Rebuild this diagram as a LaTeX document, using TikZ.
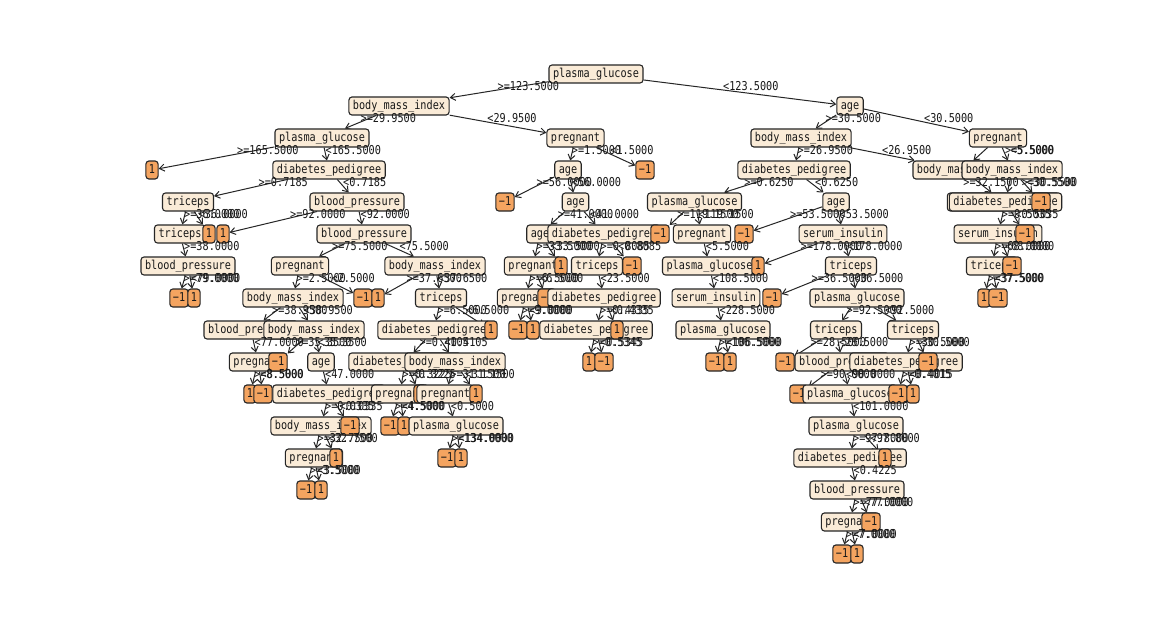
\documentclass[tikz,border=0pt]{standalone}
\usepackage{graphicx}
\usepackage{fontspec}
\newfontfamily\dtfont{DejaVu Sans Mono}
\usetikzlibrary{arrows.meta,calc}
\definecolor{innfill}{HTML}{FAEBD7}
\definecolor{leaffill}{HTML}{F4A460}
\pgfdeclarelayer{bottom}
\pgfdeclarelayer{background}
\pgfdeclarelayer{foreground}
\pgfsetlayers{bottom,background,main,foreground}
\newcommand\T[1]{\scalebox{1}[1.2]{#1}}
\newcommand\tedge[4][0]{%
  \begin{pgfonlayer}{background}\draw[arr] (#2) -- (#3);\end{pgfonlayer}%
  \begin{pgfonlayer}{foreground}\node[lbl] at ($(#2)!0.5!(#3)+(#1,-4)$) {\T{#4}};\end{pgfonlayer}}
\begin{document}
\begin{tikzpicture}[x=1pt,y=-1pt,
  inn/.style={draw=black!85, fill=innfill, rounded corners=3pt, line width=1.1pt,
    minimum height=18pt, inner xsep=4pt, inner ysep=0pt, text height=9pt, text depth=2.4pt,
    text=black!90, font=\dtfont\fontsize{10.2}{12}\selectfont},
  leaf/.style={inn, fill=leaffill, inner xsep=3pt},
  arr/.style={-{Straight Barb[length=5pt,width=7pt,line width=1pt]}, draw=black!85, line width=1pt},
  lbl/.style={anchor=west, inner sep=0pt, text=black!90, font=\dtfont\fontsize{10.2}{12}\selectfont}]
\begin{pgfonlayer}{bottom}
\fill[white] (0,0) rectangle (1164,623);
\end{pgfonlayer}
\useasboundingbox (0,0) rectangle (1164,623);
% L0
\node[inn] (n0) at (596,74) {\T{plasma\_glucose}};
% L1
\node[inn] (a1) at (399,106) {\T{body\_mass\_index}};
\node[inn] (b1) at (850,106) {\T{age}};
% L2
\node[inn] (a2) at (322,138) {\T{plasma\_glucose}};
\node[inn] (b2) at (575.5,138) {\T{pregnant}};
\node[inn] (c2) at (801,138) {\T{body\_mass\_index}};
\node[inn] (d2) at (998,138) {\T{pregnant}};
% L3
\node[leaf] (a3) at (152,170) {\T{1}};
\node[inn] (b3) at (329,170) {\T{diabetes\_pedigree}};
\node[inn] (c3) at (568,170) {\T{age}};
\node[leaf] (d3) at (645,170) {\T{−1}};
\node[inn] (e3) at (794,170) {\T{diabetes\_pedigree}};
\node[inn] (f3) at (963,170) {\T{body\_mass\_index}};
\node[inn] (g3) at (1012,170) {\T{body\_mass\_index}};
% L4
\node[inn] (a4) at (188,202) {\T{triceps}};
\node[inn] (b4) at (357,202) {\T{blood\_pressure}};
\node[leaf] (c4) at (505,202) {\T{−1}};
\node[inn] (d4) at (575.5,202) {\T{age}};
\node[inn] (e4) at (694.5,202) {\T{plasma\_glucose}};
\node[inn] (f4) at (836,202) {\T{age}};
\node[inn] (g4) at (1003.5,202) {\T{diabetes\_pedigree}};
\node[inn] (h4) at (1005.5,202) {\T{diabetes\_pedigree}};
\node[leaf] (i4) at (1041,202) {\T{−1}};
% L5
\node[inn] (a5) at (180,234) {\T{triceps}};
\node[leaf] (b5) at (209,234) {\T{1}};
\node[leaf] (c5) at (223,234) {\T{1}};
\node[inn] (d5) at (364,234) {\T{blood\_pressure}};
\node[inn] (e5) at (540,234) {\T{age}};
\node[inn] (f5) at (604,234) {\T{diabetes\_pedigree}};
\node[leaf] (g5) at (660,234) {\T{−1}};
\node[inn] (h5) at (702,234) {\T{pregnant}};
\node[leaf] (i5) at (744,234) {\T{−1}};
\node[inn] (j5) at (843,234) {\T{serum\_insulin}};
\node[inn] (k5) at (998,234) {\T{serum\_insulin}};
\node[leaf] (l5) at (1025,234) {\T{−1}};
% L6
\node[inn] (a6) at (188,266) {\T{blood\_pressure}};
\node[inn] (b6) at (300,266) {\T{pregnant}};
\node[inn] (c6) at (435,266) {\T{body\_mass\_index}};
\node[inn] (d6) at (533,266) {\T{pregnant}};
\node[leaf] (e6) at (561,266) {\T{1}};
\node[inn] (f6) at (597,266) {\T{triceps}};
\node[leaf] (g6) at (632,266) {\T{−1}};
\node[inn] (h6) at (709.5,266) {\T{plasma\_glucose}};
\node[leaf] (i6) at (758,266) {\T{1}};
\node[inn] (j6) at (851,266) {\T{triceps}};
\node[inn] (k6) at (992,266) {\T{triceps}};
\node[leaf] (l6) at (1012,266) {\T{−1}};
% L7
\node[leaf] (a7) at (179,298) {\T{−1}};
\node[leaf] (b7) at (194,298) {\T{1}};
\node[inn] (c7) at (293,298) {\T{body\_mass\_index}};
\node[leaf] (d7) at (363,298) {\T{−1}};
\node[leaf] (e7) at (378,298) {\T{1}};
\node[inn] (f7) at (441,298) {\T{triceps}};
\node[inn] (g7) at (526,298) {\T{pregnant}};
\node[leaf] (h7) at (547,298) {\T{−1}};
\node[inn] (i7) at (604,298) {\T{diabetes\_pedigree}};
\node[inn] (j7) at (716,298) {\T{serum\_insulin}};
\node[leaf] (k7) at (772,298) {\T{−1}};
\node[inn] (l7) at (857,298) {\T{plasma\_glucose}};
\node[leaf] (m7) at (984,298) {\T{1}};
\node[leaf] (n7) at (998,298) {\T{−1}};
% L8
\node[inn] (a8) at (251,330) {\T{blood\_pressure}};
\node[inn] (b8) at (314,330) {\T{body\_mass\_index}};
\node[inn] (c8) at (434,330) {\T{diabetes\_pedigree}};
\node[leaf] (d8) at (491,330) {\T{1}};
\node[leaf] (e8) at (518,330) {\T{−1}};
\node[leaf] (f8) at (533,330) {\T{1}};
\node[inn] (g8) at (596,330) {\T{diabetes\_pedigree}};
\node[leaf] (h8) at (617,330) {\T{1}};
\node[inn] (i8) at (723,330) {\T{plasma\_glucose}};
\node[inn] (j8) at (836,330) {\T{triceps}};
\node[inn] (k8) at (913,330) {\T{triceps}};
% L9
\node[inn] (a9) at (258,362) {\T{pregnant}};
\node[leaf] (b9) at (278,362) {\T{−1}};
\node[inn] (c9) at (321,362) {\T{age}};
\node[inn] (d9) at (405,362) {\T{diabetes\_pedigree}};
\node[inn] (e9) at (455,362) {\T{body\_mass\_index}};
\node[leaf] (f9) at (589,362) {\T{1}};
\node[leaf] (g9) at (604,362) {\T{−1}};
\node[leaf] (h9) at (715,362) {\T{−1}};
\node[leaf] (i9) at (730,362) {\T{1}};
\node[leaf] (j9) at (785,362) {\T{−1}};
\node[inn] (k9) at (842,362) {\T{blood\_pressure}};
\node[inn] (l9) at (906,362) {\T{diabetes\_pedigree}};
\node[leaf] (m9) at (928,362) {\T{−1}};
% L10
\node[leaf] (a10) at (250,394) {\T{1}};
\node[leaf] (b10) at (263,394) {\T{−1}};
\node[inn] (c10) at (329,394) {\T{diabetes\_pedigree}};
\node[inn] (d10) at (400,394) {\T{pregnant}};
\node[leaf] (e10) at (420,394) {\T{1}};
\node[inn] (f10) at (445.5,394) {\T{pregnant}};
\node[leaf] (g10) at (476,394) {\T{1}};
\node[leaf] (p10) at (799,394) {\T{−1}};
\node[inn] (q10) at (850,394) {\T{plasma\_glucose}};
\node[leaf] (r10) at (898,394) {\T{−1}};
\node[leaf] (s10) at (913,394) {\T{1}};
% L11
\node[inn] (d11) at (321,426) {\T{body\_mass\_index}};
\node[leaf] (e11) at (350,426) {\T{−1}};
\node[leaf] (a11) at (390,426) {\T{−1}};
\node[leaf] (b11) at (404,426) {\T{1}};
\node[inn] (c11) at (456,426) {\T{plasma\_glucose}};
\node[inn] (p11) at (856,426) {\T{plasma\_glucose}};
% L12
\node[inn] (a12) at (314,458) {\T{pregnant}};
\node[leaf] (b12) at (336,458) {\T{1}};
\node[leaf] (c12) at (447,458) {\T{−1}};
\node[leaf] (d12) at (461,458) {\T{1}};
\node[inn] (p12) at (850,458) {\T{diabetes\_pedigree}};
\node[leaf] (q12) at (885,458) {\T{1}};
% L13
\node[leaf] (a13) at (306,490) {\T{−1}};
\node[leaf] (b13) at (321,490) {\T{1}};
\node[inn] (p13) at (857,490) {\T{blood\_pressure}};
% L14
\node[inn] (p14) at (850,522) {\T{pregnant}};
\node[leaf] (q14) at (871,522) {\T{−1}};
% L15
\node[leaf] (p15) at (842,554) {\T{−1}};
\node[leaf] (q15) at (857,554) {\T{1}};
% edges
\tedge{n0}{a1}{>=123.5000}
\tedge{n0}{b1}{<123.5000}
\tedge{a1}{a2}{>=29.9500}
\tedge{a1}{b2}{<29.9500}
\tedge{b1}{c2}{>=30.5000}
\tedge{b1}{d2}{<30.5000}
\tedge{a2}{a3}{>=165.5000}
\tedge{a2}{b3}{<165.5000}
\tedge{b2}{c3}{>=1.5000}
\tedge{b2}{d3}{<1.5000}
\tedge{c2}{e3}{>=26.9500}
\tedge{c2}{f3}{<26.9500}
\tedge[30]{d2}{f3}{<5.5000}
\tedge{d2}{g3}{>=5.5000}
\tedge{b3}{a4}{>=0.7185}
\tedge{b3}{b4}{<0.7185}
\tedge{c3}{c4}{>=56.0000}
\tedge{c3}{d4}{<56.0000}
\tedge{e3}{e4}{>=0.6250}
\tedge{e3}{f4}{<0.6250}
\tedge[-20]{f3}{g4}{>=32.1500}
\tedge[13]{g3}{h4}{>=30.5500}
\tedge{g3}{i4}{<30.5500}
\tedge{a4}{a5}{>=36.0000}
\tedge{a4}{b5}{<36.0000}
\tedge{b4}{c5}{>=92.0000}
\tedge{b4}{d5}{<92.0000}
\tedge{d4}{e5}{>=41.0000}
\tedge{d4}{f5}{<41.0000}
\tedge{e4}{g5}{>=119.1500}
\tedge{e4}{h5}{<119.1500}
\tedge{f4}{i5}{>=53.5000}
\tedge{f4}{j5}{<53.5000}
\tedge{h4}{k5}{>=0.5035}
\tedge{h4}{l5}{<0.5035}
\tedge{a5}{a6}{>=38.0000}
\tedge{d5}{b6}{>=75.5000}
\tedge{d5}{c6}{<75.5000}
\tedge{e5}{d6}{>=33.5000}
\tedge{e5}{e6}{<33.5000}
\tedge{f5}{f6}{>=0.8085}
\tedge{f5}{g6}{<0.8085}
\tedge{h5}{h6}{<5.5000}
\tedge{j5}{i6}{>=178.0000}
\tedge{j5}{j6}{<178.0000}
\tedge{k5}{k6}{>=68.0000}
\tedge{k5}{l6}{<68.0000}
\tedge{a6}{a7}{>=79.0000}
\tedge{a6}{b7}{<79.0000}
\tedge{b6}{c7}{>=2.5000}
\tedge{b6}{d7}{<2.5000}
\tedge{c6}{e7}{>=37.6500}
\tedge{c6}{f7}{<37.6500}
\tedge{d6}{g7}{>=6.5000}
\tedge{d6}{h7}{<6.5000}
\tedge{f6}{i7}{<23.5000}
\tedge{h6}{j7}{<108.5000}
\tedge{j6}{k7}{>=36.5000}
\tedge{j6}{l7}{<36.5000}
\tedge{k6}{m7}{>=37.5000}
\tedge{k6}{n7}{<37.5000}
\tedge{c7}{a8}{>=38.9500}
\tedge{c7}{b8}{<38.9500}
\tedge{f7}{c8}{>=6.5000}
\tedge{f7}{d8}{<6.5000}
\tedge{g7}{e8}{>=9.0000}
\tedge{g7}{f8}{<9.0000}
\tedge{i7}{g8}{>=0.4335}
\tedge{i7}{h8}{<0.4335}
\tedge{j7}{i8}{<228.5000}
\tedge{l7}{j8}{>=92.5000}
\tedge{l7}{k8}{<92.5000}
\tedge{a8}{a9}{<77.0000}
\tedge{b8}{b9}{>=35.3500}
\tedge{b8}{c9}{<35.3500}
\tedge{c8}{d9}{>=0.4105}
\tedge{c8}{e9}{<0.4105}
\tedge{g8}{f9}{>=0.5345}
\tedge{g8}{g9}{<0.5345}
\tedge{i8}{h9}{>=106.5000}
\tedge{i8}{i9}{<106.5000}
\tedge{j8}{j9}{>=28.5000}
\tedge{j8}{k9}{<28.5000}
\tedge{k8}{l9}{>=30.5000}
\tedge{k8}{m9}{<30.5000}
\tedge{a9}{a10}{>=8.5000}
\tedge{a9}{b10}{<8.5000}
\tedge{c9}{c10}{<47.0000}
\tedge{d9}{d10}{>=0.3225}
\tedge{d9}{e10}{<0.3225}
\tedge{e9}{f10}{>=31.1500}
\tedge{e9}{g10}{<31.1500}
\tedge{k9}{p10}{>=90.0000}
\tedge{k9}{q10}{<90.0000}
\tedge{l9}{r10}{>=0.4015}
\tedge{l9}{s10}{<0.4015}
\tedge{c10}{d11}{>=0.0335}
\tedge{c10}{e11}{<0.0335}
\tedge{d10}{a11}{>=4.5000}
\tedge{d10}{b11}{<4.5000}
\tedge{f10}{c11}{<0.5000}
\tedge{q10}{p11}{<101.0000}
\tedge{d11}{a12}{>=32.7500}
\tedge{d11}{b12}{<32.7500}
\tedge{c11}{c12}{>=134.0000}
\tedge{c11}{d12}{<134.0000}
\tedge{p11}{p12}{>=97.8000}
\tedge{p11}{q12}{<97.8000}
\tedge{a12}{a13}{>=3.5000}
\tedge{a12}{b13}{<3.5000}
\tedge{p12}{p13}{<0.4225}
\tedge{p13}{p14}{>=77.0000}
\tedge{p13}{q14}{<77.0000}
\tedge{p14}{p15}{>=7.0000}
\tedge{p14}{q15}{<7.0000}
\end{tikzpicture}
\end{document}
